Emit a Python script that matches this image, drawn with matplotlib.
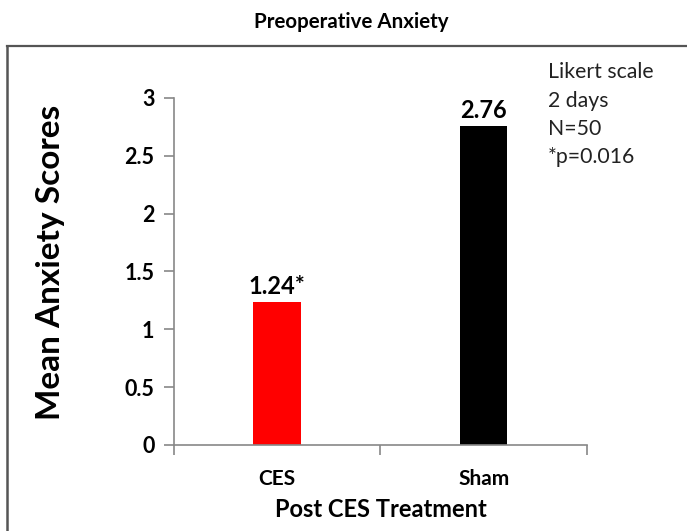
import matplotlib
matplotlib.use("Agg")
import matplotlib.pyplot as plt
from matplotlib.lines import Line2D

# data
groups = ["CES", "Sham"]
scores = [1.24, 2.76]
bar_labels = ["1.24*", "2.76"]
bar_colors = ["#ff0000", "#000000"]
yticks = [0, 0.5, 1, 1.5, 2, 2.5, 3]
ytick_labels = ["0", "0.5", "1", "1.5", "2", "2.5", "3"]
notes = ["Likert scale", "2 days", "N=50", "*p=0.016"]

plt.rcParams['font.family'] = ['Lato', 'DejaVu Sans']

fig = plt.figure(figsize=(6.87, 5.31), dpi=100)
ax = fig.add_axes([0.2533, 0.162, 0.601, 0.6535])

x = range(len(groups))
ax.bar(x, scores, width=0.23, color=bar_colors)
for i, (v, lab) in enumerate(zip(scores, bar_labels)):
    ax.text(i, v + 0.03, lab, ha="center", va="bottom", fontsize=17, fontweight="bold")

ax.set_xlim(-0.5, 1.5)
ax.set_ylim(0, 3)
ax.set_yticks(yticks)
ax.set_yticklabels(ytick_labels, fontsize=15.5, fontweight="bold")
# category ticks sit on the boundaries, labels in the middle
ax.set_xticks([-0.5, 0.5, 1.5])
ax.set_xticklabels([])
ax.set_xticks(list(x), minor=True)
ax.set_xticklabels(groups, minor=True, fontsize=15, fontweight="bold")
ax.tick_params(axis="x", which="minor", length=0, pad=17)
ax.tick_params(axis="x", which="major", length=7, color="#888888", width=1.2)
ax.tick_params(axis="y", length=7, color="#888888", width=1.2, pad=7)

for s in ["top", "right"]:
    ax.spines[s].set_visible(False)
for s in ["left", "bottom"]:
    ax.spines[s].set_color("#888888")
    ax.spines[s].set_linewidth(1.2)

ax.set_xlabel("Post CES Treatment", fontsize=17, fontweight="bold", labelpad=7)
fig.text(0.074, 0.505, "Mean Anxiety Scores", rotation=90, ha="center", va="center",
         fontsize=24, fontweight="bold")

fig.text(0.512, 0.958, "Preoperative Anxiety", ha="center", va="center", fontsize=14.8, fontweight="bold")

for k, t in enumerate(notes):
    fig.text(0.797, 0.864 - k * 0.0534, t, ha="left", va="center", fontsize=15.3, color="#222222")

# outer frame: top and left only
fig.add_artist(Line2D([0.0102, 1.0], [0.913, 0.913], color="#555555", lw=1.6))
fig.add_artist(Line2D([0.0102, 0.0102], [0.913, 0.0], color="#555555", lw=1.8))

fig.savefig("out.png", dpi=100)
